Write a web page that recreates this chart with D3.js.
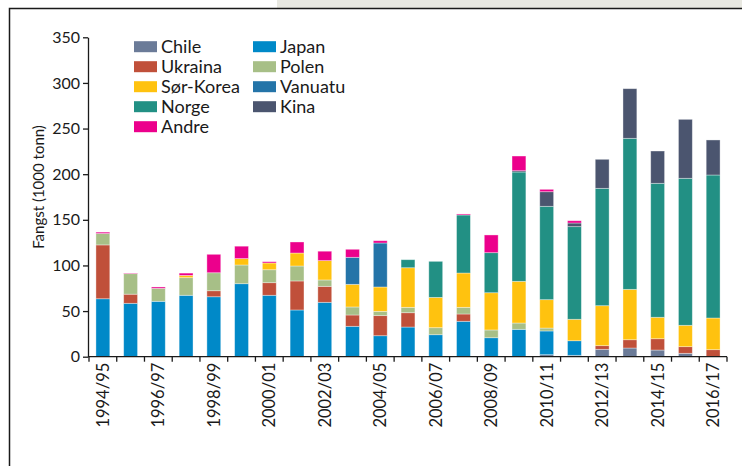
<!DOCTYPE html>
<html>
<head>
<meta charset="utf-8">
<script src="https://cdn.jsdelivr.net/npm/d3@7"></script>
<style>
  body { margin: 0; background: #fff; }
  svg { display: block; font-family: Lato, "Open Sans", sans-serif; }
</style>
</head>
<body>
<div id="chart"></div>
<script>
// seasons on the x axis
var seasons = ["1994/95","1995/96","1996/97","1997/98","1998/99","1999/00","2000/01","2001/02",
  "2002/03","2003/04","2004/05","2005/06","2006/07","2007/08","2008/09","2009/10","2010/11",
  "2011/12","2012/13","2013/14","2014/15","2015/16","2016/17"];
var seasonLabels = ["1994/95","1996/97","1998/99","2000/01","2002/03","2004/05","2006/07",
  "2008/09","2010/11","2012/13","2014/15","2016/17"];

// catch per country, 1000 tonn
var chile    = [0,0,0,0,0,0,0,0,0,0,0,0,0,0,0,0,2.2,1.5,8.1,9.5,7.3,3.7,0];
var japan    = [63.5,58.5,60.7,67.3,65.7,80,67.3,51.2,59.6,33.3,23,32.5,24.1,38.8,20.8,30,26,16,0,0,0,0,0];
var ukraina  = [59,10,0,0,6.6,0,13.8,31.8,17.5,12.4,22,15.7,0,8,0,0,0,0,4,9.1,12.4,7.3,7.7];
var polen    = [12.5,22.5,14.2,19.3,19.7,20.5,14.2,16.4,7,8.8,4.7,5.9,7.7,7.3,8.5,6.9,3.2,0,0,0,0,0,0];
var sorKorea = [0,0,0,2.5,0,7,7.4,14.2,21.2,24.8,26.7,43.4,33.2,37.6,40.8,45.7,31.1,23.5,43.8,55.2,23.5,23.4,34.7];
var vanuatu  = [0,0,0,0,0,0,0,0,0,29.6,48.2,0,0,0,0,0,0,0,0,0,0,0,0];
var norge    = [0,0,0,0,0,0,0,0,0,0,0,8.8,39.5,63.6,43.9,119.8,102.3,101.5,128.6,165.5,146.8,161.1,156.7];
var kina     = [0,0,0,0,0,0,0,0,0,0,0,0,0,0,0,1.4,16,4,31.8,54.4,35.4,64.6,38.4];
var andre    = [1.5,0.6,1.5,2.5,20.2,13.6,1.4,12.1,10.3,8.8,2.5,0,0,1.1,19.4,16.1,2.6,2.5,0,0,0,0,0];

var yTicks = [0,50,100,150,200,250,300,350];

var series = [
  {name: "Chile", values: chile, color: "#6b7b98"},
  {name: "Japan", values: japan, color: "#0089c8"},
  {name: "Ukraina", values: ukraina, color: "#c0503a"},
  {name: "Polen", values: polen, color: "#a7bf87"},
  {name: "Sør-Korea", values: sorKorea, color: "#ffc20f"},
  {name: "Vanuatu", values: vanuatu, color: "#2474a8"},
  {name: "Norge", values: norge, color: "#229084"},
  {name: "Kina", values: kina, color: "#4b556f"},
  {name: "Andre", values: andre, color: "#ec008c"}
];
var legendCols = [["Chile","Ukraina","Sør-Korea","Norge","Andre"],["Japan","Polen","Vanuatu","Kina"]];

var W = 742, H = 466;
var svg = d3.select("#chart").append("svg").attr("width", W).attr("height", H);

// page frame
svg.append("rect").attr("x", 277).attr("y", 0).attr("width", W - 277).attr("height", 8).attr("fill", "#e8e8e1");
svg.append("path").attr("d", "M9.5," + H + "V8.5H" + W).attr("fill", "none").attr("stroke", "#1a1a1a").attr("stroke-width", 1.5);

var table = seasons.map(function(s, i) {
  var row = {season: s};
  series.forEach(function(d) { row[d.name] = d.values[i]; });
  return row;
});
var stack = d3.stack().keys(series.map(function(d) { return d.name; }))(table);

var x = d3.scaleBand().domain(seasons).range([89, 727]).paddingInner(0.5).paddingOuter(0.25);
var y = d3.scaleLinear().domain([0, 350]).range([356.7, 37.3]);

// bars
svg.selectAll("g.layer").data(stack).enter().append("g")
    .attr("class", "layer")
    .attr("fill", function(d, i) { return series[i].color; })
  .selectAll("rect").data(function(d) { return d.filter(function(p) { return p[1] - p[0] > 0; }); })
  .enter().append("rect")
    .attr("x", function(d) { return x(d.data.season); })
    .attr("width", x.bandwidth())
    .attr("y", function(d) { return y(d[1]); })
    .attr("height", function(d) { return y(d[0]) - y(d[1]); })
    .attr("stroke", "#fff").attr("stroke-opacity", 0.45).attr("stroke-width", 0.8);

// y axis
var yAxis = svg.append("g").attr("transform", "translate(88,0)")
    .call(d3.axisLeft(y).tickValues(yTicks).tickSize(5).tickSizeOuter(0).tickPadding(3));
yAxis.selectAll("text").style("font-size", "16px").attr("fill", "#1a1a1a").attr("font-family", "Lato, sans-serif");
yAxis.selectAll("line, path").attr("stroke", "#1a1a1a").attr("stroke-width", 1.3);

// x axis: ticks at band boundaries, labels on every second season
var half = (x.step() - x.bandwidth()) / 2;
var gx = svg.append("g").attr("transform", "translate(0," + y(0) + ")");
gx.append("line").attr("x1", 88).attr("x2", x(seasons[seasons.length - 1]) + x.bandwidth() + half)
    .attr("stroke", "#1a1a1a").attr("stroke-width", 1.3);
var bounds = seasons.map(function(s) { return x(s) - half; }).concat([x(seasons[seasons.length - 1]) + x.bandwidth() + half]);
gx.selectAll("line.tick").data(bounds).enter().append("line")
    .attr("class", "tick").attr("x1", function(d) { return d; }).attr("x2", function(d) { return d; })
    .attr("y1", 0).attr("y2", 5).attr("stroke", "#1a1a1a").attr("stroke-width", 1.3);
gx.selectAll("text").data(seasonLabels).enter().append("text")
    .attr("transform", function(d) { return "translate(" + (x(d) + x.bandwidth() / 2 + 6) + ",6) rotate(-90)"; })
    .attr("text-anchor", "end")
    .style("font-size", "16.5px").attr("fill", "#1a1a1a")
    .text(function(d) { return d; });

// y title
svg.append("text").attr("transform", "translate(44,187) rotate(-90)")
    .attr("text-anchor", "middle").style("font-size", "15px").attr("fill", "#1a1a1a")
    .text("Fangst (1000 tonn)");

// legend
var colX = [134, 253];
legendCols.forEach(function(col, c) {
  col.forEach(function(name, r) {
    var s = series.find(function(d) { return d.name === name; });
    var g = svg.append("g").attr("transform", "translate(" + colX[c] + "," + (46.7 + r * 20) + ")");
    g.append("rect").attr("x", 0).attr("y", -5.5).attr("width", 23).attr("height", 11).attr("fill", s.color);
    g.append("text").attr("x", 27).attr("y", 6.5).style("font-size", "18px").attr("fill", "#1a1a1a").text(name);
  });
});
</script>
</body>
</html>
